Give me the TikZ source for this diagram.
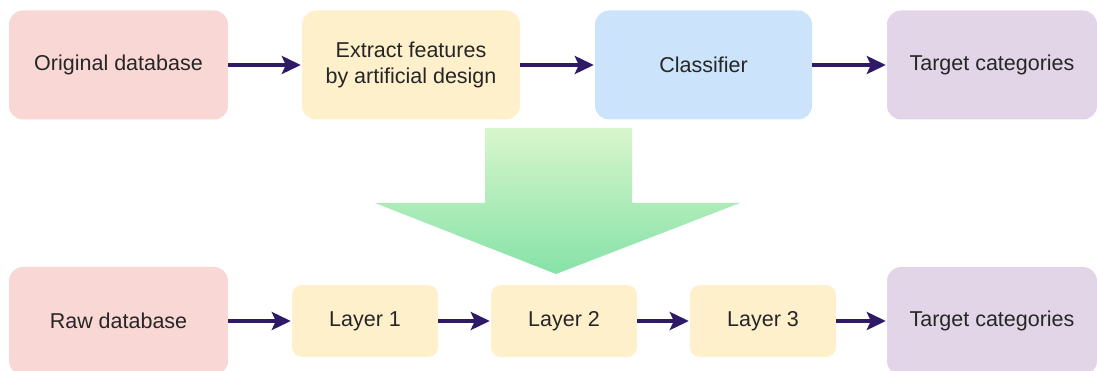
\documentclass[tikz,border=0pt]{standalone}
\usepackage{fontspec}
\setmainfont{Liberation Sans}
\usetikzlibrary{arrows.meta}
\definecolor{pinkbox}{HTML}{F8D7D4}
\definecolor{yellowbox}{HTML}{FFF0CC}
\definecolor{bluebox}{HTML}{CCE4FB}
\definecolor{purplebox}{HTML}{E1D5E7}
\definecolor{arrowcol}{HTML}{2E1A66}
\definecolor{greentop}{HTML}{D8F6CB}
\definecolor{greenbot}{HTML}{86E2A8}
\begin{document}
\begin{tikzpicture}[x=1pt,y=-1pt,
  box/.style={rectangle, rounded corners=14pt, draw=none, align=center,
    font=\fontsize{21.5}{26}\selectfont, text=black!85, inner sep=0pt},
  conn/.style={draw=arrowcol, line width=3.4pt, -{Stealth[length=19pt,width=18pt,inset=4pt]}, shorten >=1pt}]
\useasboundingbox (0,0) rectangle (1097,371);
% top row
\node[box, fill=pinkbox, minimum width=219pt, minimum height=109pt] (orig) at (118.5,65) {Original database};
\node[box, fill=yellowbox, minimum width=218pt, minimum height=109pt] (extract) at (411,65) {Extract features\\by artificial design};
\node[box, fill=bluebox, minimum width=217pt, minimum height=109pt] (clf) at (703.5,65) {Classifier};
\node[box, fill=purplebox, minimum width=210pt, minimum height=109pt] (tgt1) at (992,65) {Target categories};
\draw[conn] (orig) -- (extract);
\draw[conn] (extract) -- (clf);
\draw[conn] (clf) -- (tgt1);
% big arrow
\shade[top color=greentop, bottom color=greenbot]
  (485,128) -- (632,128) -- (632,203) -- (740,203) -- (556,274) -- (375,203) -- (485,203) -- cycle;
% bottom row
\node[box, fill=pinkbox, minimum width=219pt, minimum height=108pt] (raw) at (118.5,321) {Raw database};
\node[box, fill=yellowbox, minimum width=146pt, minimum height=72pt, rounded corners=10pt] (l1) at (365,321) {Layer 1};
\node[box, fill=yellowbox, minimum width=146pt, minimum height=72pt, rounded corners=10pt] (l2) at (564,321) {Layer 2};
\node[box, fill=yellowbox, minimum width=146pt, minimum height=72pt, rounded corners=10pt] (l3) at (763,321) {Layer 3};
\node[box, fill=purplebox, minimum width=210pt, minimum height=108pt] (tgt2) at (992,321) {Target categories};
\draw[conn] (raw.east |- l1) -- (l1);
\draw[conn] (l1) -- (l2);
\draw[conn] (l2) -- (l3);
\draw[conn] (l3) -- (tgt2.west |- l3);
\end{tikzpicture}
\end{document}
